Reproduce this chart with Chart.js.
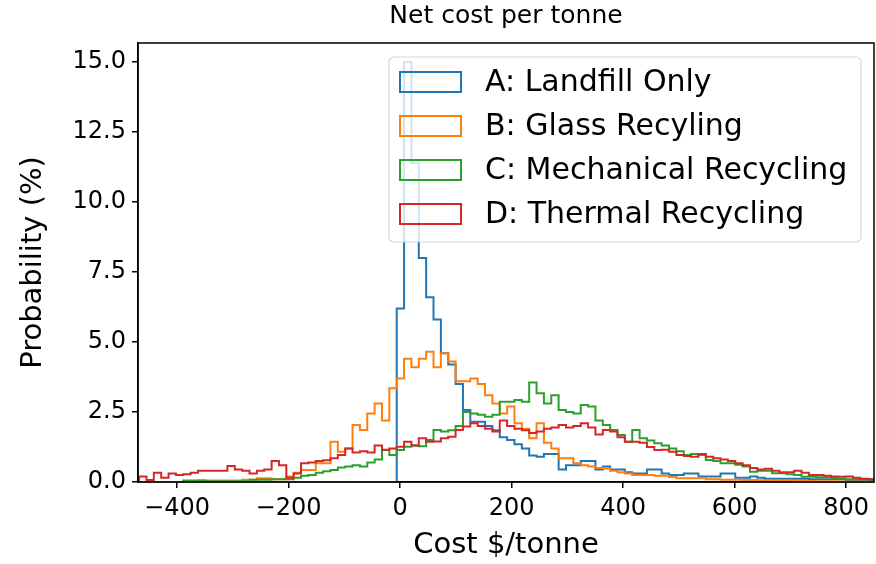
<!DOCTYPE html>
<html><head><meta charset="utf-8">
<script src="https://cdn.jsdelivr.net/npm/chart.js@4.4.1/dist/chart.umd.min.js"></script>
<style>html,body{margin:0;padding:0;background:#fff}</style>
</head><body>
<canvas id="c" width="876" height="564"></canvas>
<script>
// Histogram bins (cost $/tonne)
const binStart = -468;
const binWidth = 13.2;

const seriesLabels = ["A: Landfill Only", "B: Glass Recyling", "C: Mechanical Recycling", "D: Thermal Recycling"];
const seriesColors = ["#1f77b4", "#ff7f0e", "#2ca02c", "#d62728"];

// Probability (%) per bin
const landfill = [
  0,0,0,0,0,0,0,0,0,0, 0,0,0,0,0,0,0,0,0,0, 0,0,0,0,0,0,0,0,0,0, 0,0,0,0,0,
  6.2,15.0,11.4,8.0,6.6,5.8,4.6,4.2,3.5,2.57,
  2.15,2.15,2.0,1.85,1.6,1.5,1.35,1.2,0.95,0.9,
  1.0,1.0,0.45,0.6,0.6,0.75,0.75,0.45,0.55,0.45,
  0.45,0.35,0.3,0.3,0.45,0.45,0.3,0.25,0.25,0.3,
  0.3,0.2,0.2,0.2,0.3,0.3,0.15,0.15,0.2,0.15,
  0.12,0.12,0.12,0.12,0.12,0.12,0.1,0.1,0.1,0.1,
  0.1,0.07,0.07,0.07,0.07
];
const glass = [
  0,0,0,0,0,0,
  0.03,0.03,0.05,0.05,0.05,0.05,0.05,0.05,0.08,0.08,
  0.13,0.13,0.1,0.1,0.2,
  0.33,0.43,0.43,0.67,0.67,1.44,1.08,1.2,2.04,1.86,
  2.45,2.8,2.2,3.35,3.7,4.4,4.1,4.4,4.65,4.1,
  4.6,4.3,3.6,3.6,3.7,3.5,3.1,2.8,2.45,2.7,
  2.1,1.9,1.56,2.1,1.4,1.2,0.85,0.85,0.67,0.6,
  0.55,0.5,0.48,0.4,0.35,0.3,0.25,0.25,0.25,0.22,
  0.22,0.18,0.13,0.13,0.13,0.13,0.1,0.1,0.08,0.08,
  0.08,0.07,0.07,0.06,0.06,0.05,0.05,0.05,0.04,0.04,
  0.04,0.03,0.03,0.03,0.02,0.02,0.02,0.02,0.01
];
const mechanical = [
  0,0,0,0,0,0,
  0.05,0.05,0.05,
  0.03,0.03,0.03,0.03,0.03,0.03,
  0.08,0.08,0.08,
  0.1,0.1,0.1,
  0.15,0.22,0.25,0.33,0.38,0.43,0.52,0.55,0.6,0.55,
  0.7,0.8,1.14,0.96,1.14,1.26,1.3,1.28,1.5,1.86,
  1.8,1.85,2.0,2.5,2.45,2.4,2.33,2.4,2.87,2.87,
  2.93,2.87,3.55,3.17,2.8,3.1,2.57,2.5,2.45,2.75,
  2.7,2.2,2.04,1.86,1.68,1.44,1.86,1.56,1.48,1.38,
  1.3,1.2,1.1,0.96,1.0,0.96,0.79,0.75,0.67,0.67,
  0.62,0.55,0.37,0.4,0.4,0.31,0.31,0.28,0.25,0.19,
  0.19,0.17,0.17,0.15,0.12,0.1,0.1,0.1,0.1
];
const thermal = [
  0.2,0.07,0.33,0.15,0.3,0.25,0.28,0.33,0.4,0.4,
  0.4,0.4,0.57,0.45,0.4,0.3,0.4,0.45,0.75,0.6,
  0.15,0.3,0.67,0.7,0.75,0.78,0.85,0.96,1.2,1.05,
  1.1,1.05,1.3,1.15,1.2,1.26,1.44,1.3,1.56,1.44,
  1.45,1.56,1.62,1.86,1.98,2.1,2.0,1.9,1.8,2.2,
  2.0,1.9,1.85,1.75,1.8,1.9,1.95,2.04,1.95,2.0,
  2.1,1.95,1.7,1.86,1.8,1.6,1.44,1.44,1.4,1.25,
  1.14,1.15,1.08,0.96,0.93,0.9,1.0,0.9,0.85,0.8,
  0.75,0.67,0.6,0.5,0.45,0.47,0.4,0.35,0.35,0.4,
  0.33,0.25,0.25,0.22,0.2,0.19,0.2,0.15,0.12,0.1
];

const xTicks = [-400, -200, 0, 200, 400, 600, 800];
const yTicks = [0, 2.5, 5, 7.5, 10, 12.5, 15];

// Build step-histogram outline points from bin values
function stepPoints(vals) {
  const pts = [{x: binStart, y: 0}];
  vals.forEach((v, i) => pts.push({x: binStart + i * binWidth, y: v}));
  const end = binStart + vals.length * binWidth;
  pts.push({x: end, y: vals[vals.length - 1]});
  pts.push({x: end, y: 0});
  return pts;
}

const allSeries = [landfill, glass, mechanical, thermal];
const datasets = allSeries.map((vals, k) => ({
  label: seriesLabels[k],
  data: stepPoints(vals),
  borderColor: seriesColors[k],
  backgroundColor: 'transparent',
  borderWidth: 2,
  pointRadius: 0,
  fill: false,
  stepped: 'before',
  order: 4 - k
}));

const FONT = 'DejaVu Sans';

const framePlugin = {
  id: 'frame',
  afterDatasetsDraw(chart) {
    const {ctx, chartArea: a} = chart;
    ctx.save();
    ctx.strokeStyle = '#000';
    ctx.lineWidth = 1.5;
    ctx.strokeRect(a.left, a.top, a.right - a.left, a.bottom - a.top);
    ctx.restore();
  }
};

const legendPlugin = {
  id: 'boxLegend',
  afterDatasetsDraw(chart) {
    const {ctx, chartArea: a} = chart;
    const fs = 30;
    const boxR = a.right - 13, boxT = a.top + 14;
    const boxL = 389, boxB = boxT + 185;
    ctx.save();
    const r = 5;
    ctx.beginPath();
    ctx.moveTo(boxL + r, boxT);
    ctx.arcTo(boxR, boxT, boxR, boxB, r);
    ctx.arcTo(boxR, boxB, boxL, boxB, r);
    ctx.arcTo(boxL, boxB, boxL, boxT, r);
    ctx.arcTo(boxL, boxT, boxR, boxT, r);
    ctx.closePath();
    ctx.fillStyle = 'rgba(255,255,255,0.8)';
    ctx.fill();
    ctx.strokeStyle = 'rgba(204,204,204,0.8)';
    ctx.lineWidth = 1.2;
    ctx.stroke();
    ctx.font = fs + 'px "' + FONT + '"';
    ctx.textBaseline = 'middle';
    ctx.textAlign = 'left';
    chart.data.datasets.forEach((ds, i) => {
      const cy = boxT + 25 + i * 44;
      ctx.strokeStyle = ds.borderColor;
      ctx.lineWidth = 2;
      ctx.strokeRect(400, cy - 10, 61, 20);
      ctx.fillStyle = '#000';
      ctx.fillText(ds.label, 485, cy + 1);
    });
    ctx.restore();
  }
};

new Chart(document.getElementById('c'), {
  type: 'line',
  data: { datasets },
  plugins: [framePlugin, legendPlugin],
  options: {
    responsive: false,
    animation: false,
    devicePixelRatio: 1,
    layout: { padding: { left: 8, right: 2, top: 0, bottom: 0 } },
    plugins: {
      legend: { display: false },
      tooltip: { enabled: false },
      title: { display: false }
    },
    scales: {
      xTop: {
        type: 'linear',
        position: 'top',
        min: -470,
        max: 850,
        afterFit(scale) { scale.height = 43; },
        ticks: { display: false },
        grid: { display: false },
        border: { display: false },
        title: {
          display: true,
          text: 'Net cost per tonne',
          color: '#000',
          font: { family: FONT, size: 25 },
          padding: { top: 1, bottom: 0 }
        }
      },
      x: {
        type: 'linear',
        min: -470,
        max: 850,
        afterBuildTicks(scale) { scale.ticks = xTicks.map(v => ({value: v})); },
        afterFit(scale) { scale.height = 82; },
        ticks: {
          color: '#000',
          font: { family: FONT, size: 24 },
          padding: 6,
          maxRotation: 0,
          callback: v => (v < 0 ? '\u2212' + Math.abs(v) : String(v))
        },
        grid: { display: true, drawOnChartArea: false, drawTicks: true, tickLength: 6, color: '#000', lineWidth: 1.5 },
        border: { display: true, color: '#000', width: 1.5 },
        title: {
          display: true,
          text: 'Cost $/tonne',
          color: '#000',
          font: { family: FONT, size: 29 },
          padding: { top: 0, bottom: 1 }
        }
      },
      y: {
        type: 'linear',
        min: 0,
        max: 15.68,
        afterBuildTicks(scale) { scale.ticks = yTicks.map(v => ({value: v})); },
        afterFit(scale) { scale.width = 130; },
        ticks: {
          color: '#000',
          font: { family: FONT, size: 24 },
          padding: 6,
          callback: v => Number(v).toFixed(1)
        },
        grid: { display: true, drawOnChartArea: false, drawTicks: true, tickLength: 6, color: '#000', lineWidth: 1.5 },
        border: { display: true, color: '#000', width: 1.5 },
        title: {
          display: true,
          text: 'Probability (%)',
          color: '#000',
          font: { family: FONT, size: 29 },
          padding: { top: 8, bottom: 0 }
        }
      }
    }
  }
});
</script>
</body></html>
